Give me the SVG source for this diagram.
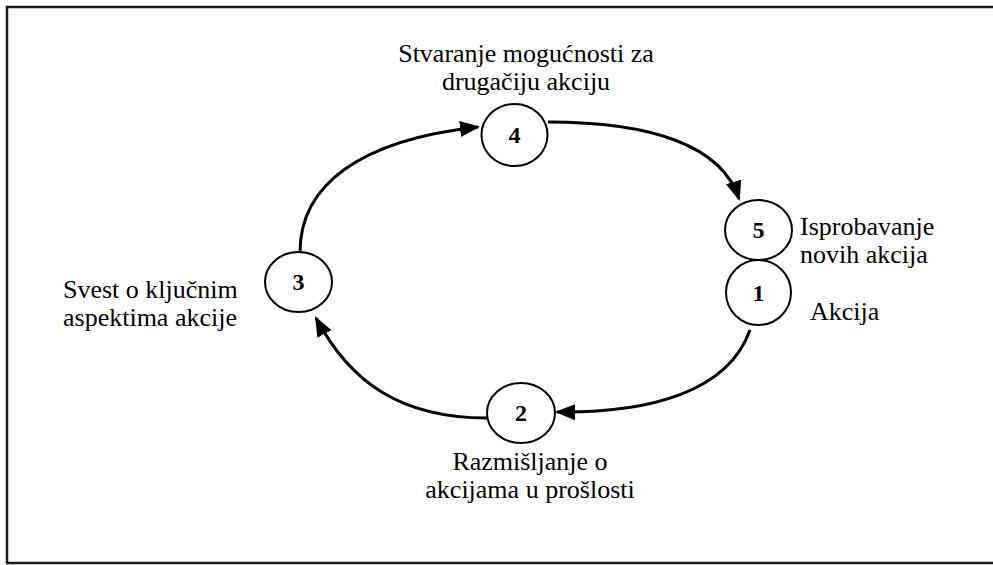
<svg xmlns="http://www.w3.org/2000/svg" width="993" height="565" viewBox="0 0 993 565">
  <style>
    .frame { fill: #ffffff; stroke: #1a1a1a; stroke-width: 2.5; }
    .node { fill: #ffffff; stroke: #000000; stroke-width: 2; }
    .num { font-family: "Liberation Serif", "Times New Roman", serif; font-size: 24px; font-weight: bold; text-anchor: middle; fill: #000000; }
    .label { font-family: "Liberation Serif", "Times New Roman", serif; font-size: 26px; fill: #000000; }
    .mid { text-anchor: middle; }
    .link { fill: none; stroke: #000000; stroke-width: 3; marker-end: url(#arrow); }
  </style>
  <defs>
    <marker id="arrow" markerUnits="userSpaceOnUse" markerWidth="20" markerHeight="16" viewBox="0 0 20 16" refX="18" refY="8" orient="auto">
      <path d="M0,0 L20,8 L0,16 z" fill="#000000"/>
    </marker>
  </defs>

  <rect class="frame" x="7" y="7" width="992" height="556"/>

  <!-- cycle connectors -->
  <g id="connectors">
    <path class="link" d="M300,252 C300,185 360,140 478,127"/>
    <path class="link" d="M548,122 C650,122 722,145 739,199"/>
    <path class="link" d="M750,330 C728,392 650,413 557,412"/>
    <path class="link" d="M487,418 C400,418 350,382 316,318"/>
  </g>

  <g id="node-4">
    <ellipse class="node" cx="514.5" cy="135" rx="33" ry="31"/>
    <text class="num" x="514.5" y="143">4</text>
    <text class="label mid" x="526" y="62">Stvaranje mogućnosti za</text>
    <text class="label mid" x="526" y="90">drugačiju akciju</text>
  </g>

  <g id="node-5">
    <ellipse class="node" cx="758.5" cy="230" rx="33.5" ry="30"/>
    <text class="num" x="758.5" y="238">5</text>
    <text class="label" x="800" y="235">Isprobavanje</text>
    <text class="label" x="800" y="263">novih akcija</text>
  </g>

  <g id="node-1">
    <ellipse class="node" cx="758.5" cy="292.5" rx="32.5" ry="32.5"/>
    <text class="num" x="758.5" y="301">1</text>
    <text class="label" x="810" y="320">Akcija</text>
  </g>

  <g id="node-2">
    <ellipse class="node" cx="521" cy="413" rx="34" ry="30"/>
    <text class="num" x="521" y="421">2</text>
    <text class="label mid" x="530" y="470">Razmišljanje o</text>
    <text class="label mid" x="530" y="498">akcijama u prošlosti</text>
  </g>

  <g id="node-3">
    <ellipse class="node" cx="298.5" cy="282" rx="33.5" ry="30"/>
    <text class="num" x="298.5" y="290">3</text>
    <text class="label" x="63" y="298">Svest o ključnim</text>
    <text class="label" x="63" y="326">aspektima akcije</text>
  </g>
</svg>
